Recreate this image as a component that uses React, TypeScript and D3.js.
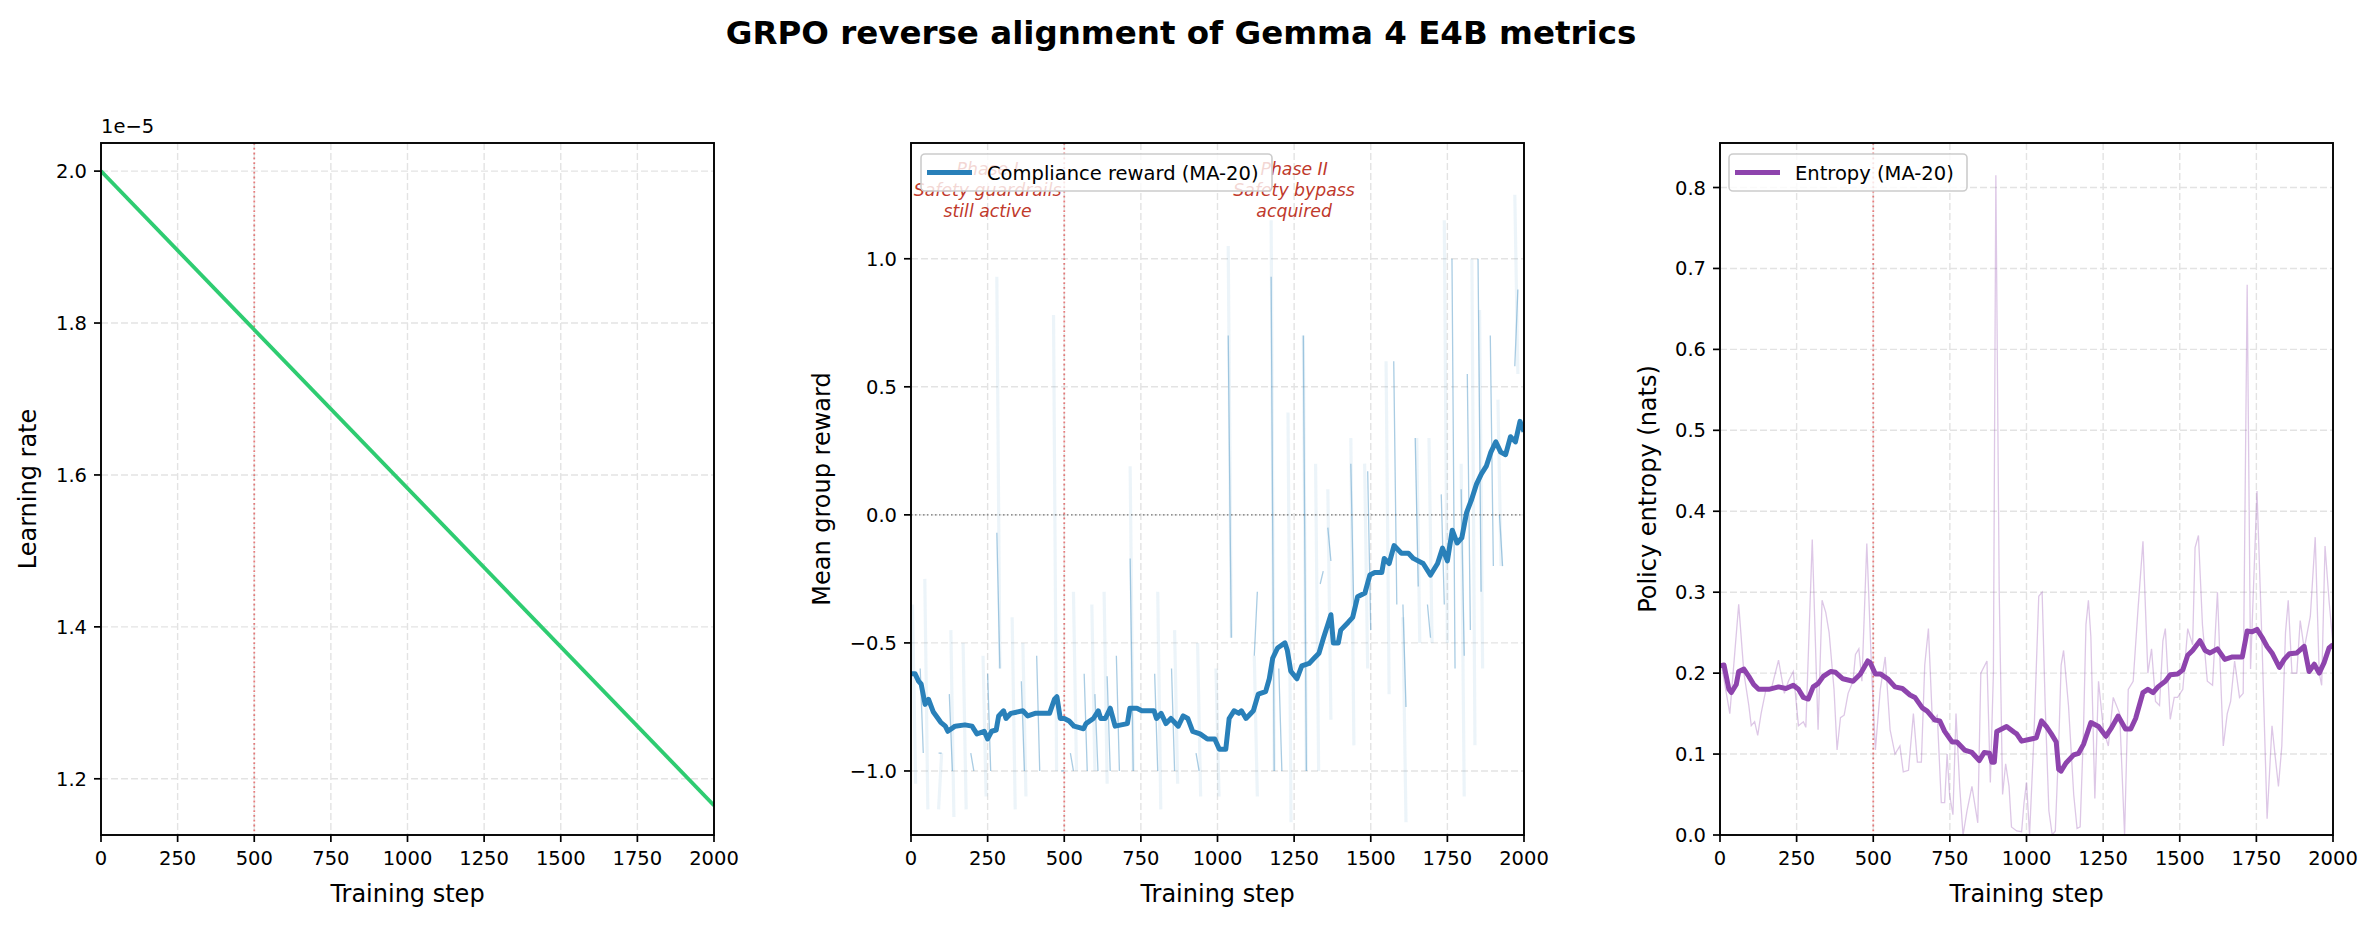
import React from 'react';
import * as d3 from 'd3';

// ---------------- DATA ----------------
const lrSteps = [0, 2000];
const lrValues = [2.0e-5, 1.165e-5];

const rewardMASteps = [0, 13, 25, 33, 46, 57, 73, 97, 112, 120, 144, 176, 199, 215, 239, 250, 263, 278, 286, 302, 310, 326, 365, 381, 405, 452, 468, 476, 487, 500, 516, 532, 563, 571, 595, 611, 619, 634, 650, 666, 706, 714, 737, 753, 793, 801, 816, 832, 848, 872, 888, 903, 919, 943, 967, 991, 1006, 1027, 1038, 1054, 1070, 1078, 1093, 1117, 1133, 1157, 1169, 1180, 1196, 1220, 1228, 1239, 1259, 1275, 1299, 1315, 1331, 1346, 1362, 1370, 1378, 1394, 1402, 1426, 1441, 1457, 1481, 1497, 1513, 1536, 1544, 1560, 1576, 1600, 1623, 1639, 1671, 1695, 1718, 1734, 1750, 1766, 1782, 1797, 1813, 1829, 1845, 1861, 1877, 1892, 1908, 1924, 1940, 1956, 1972, 1987, 2000];
const rewardMA = [-0.62, -0.62, -0.65, -0.66, -0.74, -0.72, -0.77, -0.81, -0.825, -0.845, -0.825, -0.82, -0.825, -0.855, -0.845, -0.875, -0.845, -0.84, -0.785, -0.765, -0.795, -0.775, -0.765, -0.785, -0.775, -0.775, -0.72, -0.71, -0.795, -0.795, -0.805, -0.825, -0.835, -0.815, -0.795, -0.765, -0.795, -0.795, -0.755, -0.825, -0.815, -0.755, -0.755, -0.765, -0.765, -0.795, -0.775, -0.815, -0.795, -0.825, -0.785, -0.795, -0.845, -0.855, -0.875, -0.875, -0.915, -0.915, -0.795, -0.765, -0.775, -0.765, -0.795, -0.765, -0.70, -0.69, -0.64, -0.56, -0.52, -0.50, -0.53, -0.61, -0.64, -0.59, -0.58, -0.56, -0.54, -0.48, -0.42, -0.39, -0.50, -0.50, -0.45, -0.42, -0.40, -0.32, -0.305, -0.235, -0.225, -0.225, -0.17, -0.19, -0.12, -0.15, -0.15, -0.17, -0.19, -0.235, -0.19, -0.13, -0.18, -0.06, -0.11, -0.09, 0.01, 0.06, 0.12, 0.16, 0.19, 0.245, 0.285, 0.245, 0.235, 0.305, 0.285, 0.365, 0.325];

// raw per-step reward (NaN = not logged)
const rewardRawSteps = [30, 40, NaN, 90, 100, NaN, 125, 135, NaN, 195, 205, NaN, 250, 260, NaN, 280, 290, NaN, 360, 370, NaN, 410, 420, NaN, 490, 500, NaN, 520, 530, NaN, 565, 575, NaN, 600, 610, NaN, 640, 650, NaN, 670, 680, NaN, 715, 725, NaN, 795, 805, NaN, 850, 860, NaN, 930, 940, NaN, 1035, 1045, NaN, 1120, 1130, NaN, 1175, 1185, NaN, 1200, 1210, NaN, 1280, 1290, NaN, 1335, 1345, NaN, 1360, 1370, NaN, 1435, 1445, NaN, 1490, 1500, NaN, 1575, 1585, NaN, 1605, 1615, NaN, 1645, 1655, NaN, 1685, 1695, NaN, 1730, 1740, NaN, 1765, 1775, NaN, 1795, 1805, NaN, 1815, 1825, NaN, 1850, 1860, NaN, 1890, 1900, NaN, 1920, 1930, NaN, 1970, 1980];
const rewardRaw = [-0.6, -0.93, NaN, -0.93, -0.93, NaN, -0.7, -1.0, NaN, -0.93, -1.0, NaN, -0.62, -1.0, NaN, -0.07, -0.6, NaN, -0.65, -1.0, NaN, -0.55, -1.0, NaN, -1.0, -1.0, NaN, -0.93, -1.0, NaN, -0.62, -1.0, NaN, -0.7, -1.0, NaN, -0.63, -1.0, NaN, -0.55, -1.0, NaN, -0.17, -1.0, NaN, -0.62, -1.0, NaN, -0.6, -1.0, NaN, -0.93, -1.0, NaN, 0.7, -0.48, NaN, -0.55, -0.3, NaN, 0.93, -1.0, NaN, -0.6, -1.0, NaN, 0.7, -1.0, NaN, -0.27, -0.22, NaN, -0.05, -0.18, NaN, 0.2, -0.4, NaN, 0.17, -0.45, NaN, 0.6, -0.35, NaN, -0.35, -0.75, NaN, 0.3, -0.28, NaN, -0.35, -0.48, NaN, 0.08, -0.35, NaN, 1.0, -0.6, NaN, 0.1, -0.55, NaN, 0.55, -0.45, NaN, 1.0, -0.3, NaN, 0.7, -0.2, NaN, 0.0, -0.2, NaN, 0.58, 0.88];

// per-step reward spread (faint band), NaN = gap
const rewardBandSteps = [5, 15, NaN, 45, 55, NaN, 90, 100, NaN, 130, 140, NaN, 170, 180, NaN, 235, 245, NaN, 280, 290, NaN, 330, 340, NaN, 365, 375, NaN, 465, 475, NaN, 530, 540, NaN, 590, 600, NaN, 630, 640, NaN, 715, 725, NaN, 805, 815, NaN, 860, 870, NaN, 935, 945, NaN, 995, 1005, NaN, 1035, 1045, NaN, 1120, 1130, NaN, 1175, 1185, NaN, 1230, 1240, NaN, 1280, 1290, NaN, 1320, 1330, NaN, 1360, 1370, NaN, 1435, 1445, NaN, 1480, 1490, NaN, 1550, 1560, NaN, 1605, 1615, NaN, 1650, 1660, NaN, 1690, 1700, NaN, 1740, 1750, NaN, 1795, 1805, NaN, 1830, 1840, NaN, 1855, 1865, NaN, 1915, 1925, NaN, 1970, 1980];
const rewardBand = [-0.35, -1.05, NaN, -0.25, -1.15, NaN, -1.15, -0.93, NaN, -0.45, -1.18, NaN, -0.5, -1.15, NaN, -0.55, -1.1, NaN, 0.93, -0.6, NaN, -0.4, -1.15, NaN, -0.5, -1.1, NaN, 0.78, -1.0, NaN, -0.3, -1.0, NaN, -0.35, -1.0, NaN, -0.3, -1.05, NaN, 0.19, -1.0, NaN, -0.3, -1.15, NaN, -0.45, -1.05, NaN, -0.5, -1.1, NaN, -0.6, -1.1, NaN, 1.05, -0.48, NaN, -0.55, -1.1, NaN, 1.15, -1.0, NaN, 0.4, -1.2, NaN, 0.7, -1.0, NaN, 0.2, -1.0, NaN, 0.1, -0.8, NaN, 0.3, -0.9, NaN, 0.2, -0.6, NaN, 0.6, -0.7, NaN, -0.4, -1.2, NaN, 0.3, -0.5, NaN, 0.3, -0.5, NaN, 1.15, -0.5, NaN, 0.2, -1.1, NaN, 1.0, -0.9, NaN, 0.8, -0.6, NaN, 0.45, -0.2, NaN, 1.25, 0.55];

const entropyMASteps = [0, 13, 29, 37, 53, 61, 78, 94, 110, 126, 159, 191, 215, 239, 256, 272, 288, 304, 320, 337, 361, 377, 401, 434, 458, 482, 490, 507, 523, 547, 571, 595, 620, 636, 660, 676, 701, 717, 733, 757, 773, 798, 822, 846, 862, 879, 887, 895, 903, 919, 935, 960, 968, 984, 1008, 1032, 1049, 1065, 1081, 1097, 1105, 1113, 1129, 1154, 1170, 1186, 1210, 1235, 1259, 1275, 1299, 1323, 1340, 1356, 1380, 1396, 1413, 1429, 1453, 1469, 1493, 1510, 1526, 1542, 1566, 1583, 1599, 1623, 1647, 1672, 1704, 1720, 1736, 1752, 1769, 1785, 1801, 1825, 1841, 1858, 1882, 1906, 1922, 1939, 1955, 1971, 1987, 2000];
const entropyMA = [0.209, 0.21, 0.18, 0.176, 0.186, 0.202, 0.205, 0.196, 0.186, 0.18, 0.18, 0.183, 0.181, 0.185, 0.18, 0.17, 0.168, 0.183, 0.187, 0.196, 0.202, 0.201, 0.193, 0.19, 0.199, 0.215, 0.213, 0.199, 0.199, 0.193, 0.183, 0.181, 0.173, 0.17, 0.157, 0.153, 0.142, 0.141, 0.128, 0.115, 0.115, 0.105, 0.102, 0.092, 0.102, 0.101, 0.09, 0.09, 0.128, 0.131, 0.134, 0.127, 0.125, 0.116, 0.118, 0.12, 0.141, 0.134, 0.125, 0.115, 0.081, 0.079, 0.089, 0.099, 0.101, 0.112, 0.139, 0.134, 0.122, 0.131, 0.147, 0.131, 0.131, 0.144, 0.176, 0.18, 0.176, 0.183, 0.19, 0.198, 0.199, 0.204, 0.222, 0.228, 0.24, 0.228, 0.225, 0.23, 0.217, 0.22, 0.22, 0.252, 0.251, 0.254, 0.244, 0.233, 0.225, 0.207, 0.217, 0.224, 0.225, 0.233, 0.202, 0.211, 0.2, 0.213, 0.231, 0.235];

const entropyRawSteps = [5, 32, 61, 78, 94, 102, 113, 123, 134, 150, 167, 191, 210, 223, 239, 256, 272, 280, 301, 320, 333, 345, 356, 372, 382, 393, 405, 418, 434, 442, 453, 463, 479, 495, 507, 523, 539, 555, 571, 587, 598, 615, 631, 644, 657, 668, 680, 693, 709, 722, 733, 741, 749, 760, 770, 782, 793, 806, 822, 841, 851, 871, 882, 892, 900, 911, 922, 932, 943, 951, 968, 984, 992, 1000, 1010, 1024, 1040, 1051, 1061, 1073, 1084, 1094, 1105, 1113, 1121, 1137, 1154, 1165, 1175, 1186, 1194, 1202, 1210, 1223, 1235, 1251, 1267, 1283, 1304, 1320, 1332, 1348, 1364, 1380, 1396, 1408, 1421, 1434, 1445, 1453, 1469, 1482, 1493, 1510, 1526, 1542, 1550, 1561, 1574, 1590, 1607, 1623, 1642, 1655, 1666, 1679, 1695, 1707, 1720, 1731, 1752, 1769, 1785, 1801, 1812, 1822, 1833, 1845, 1854, 1866, 1882, 1893, 1906, 1926, 1942, 1955, 1963, 1974, 1987, 2000];
const entropyRaw = [0.21, 0.15, 0.285, 0.2, 0.16, 0.135, 0.14, 0.123, 0.15, 0.18, 0.18, 0.216, 0.175, 0.19, 0.202, 0.135, 0.14, 0.133, 0.365, 0.13, 0.29, 0.275, 0.25, 0.18, 0.105, 0.145, 0.148, 0.175, 0.19, 0.223, 0.23, 0.19, 0.36, 0.2, 0.105, 0.18, 0.22, 0.13, 0.1, 0.11, 0.078, 0.08, 0.15, 0.09, 0.09, 0.21, 0.255, 0.14, 0.148, 0.04, 0.04, 0.1, 0.05, 0.025, 0.15, 0.06, 0.0, 0.03, 0.06, 0.015, 0.2, 0.215, 0.065, 0.2, 0.815, 0.3, 0.05, 0.088, 0.06, 0.01, 0.005, 0.004, 0.04, 0.065, 0.0, 0.12, 0.295, 0.3, 0.16, 0.03, 0.0, 0.005, 0.11, 0.21, 0.228, 0.16, 0.05, 0.008, 0.01, 0.13, 0.26, 0.29, 0.245, 0.045, 0.19, 0.13, 0.11, 0.17, 0.15, 0.0, 0.18, 0.19, 0.28, 0.363, 0.2, 0.23, 0.165, 0.16, 0.24, 0.255, 0.143, 0.17, 0.17, 0.18, 0.255, 0.235, 0.355, 0.37, 0.26, 0.19, 0.185, 0.3, 0.11, 0.15, 0.165, 0.215, 0.17, 0.175, 0.68, 0.205, 0.425, 0.23, 0.02, 0.135, 0.095, 0.06, 0.11, 0.25, 0.29, 0.2, 0.2, 0.265, 0.23, 0.27, 0.368, 0.2, 0.185, 0.357, 0.29, 0.235];

const xTicks = [0, 250, 500, 750, 1000, 1250, 1500, 1750, 2000];
const lrTicks = [1.2e-5, 1.4e-5, 1.6e-5, 1.8e-5, 2.0e-5];
const rewardTicks = [-1.0, -0.5, 0.0, 0.5, 1.0];
const entropyTicks = [0.0, 0.1, 0.2, 0.3, 0.4, 0.5, 0.6, 0.7, 0.8];

const phaseStep = 500;
const phaseILabel = ['Phase I', 'Safety guardrails', 'still active'];
const phaseIILabel = ['Phase II', 'Safety bypass', 'acquired'];
const phaseIStep = 250;
const phaseIIStep = 1250;

// ---------------- STYLE ----------------
const FONT = 'DejaVu Sans, Verdana, sans-serif';
const W = 2377;
const H = 925;
const TOP = 143;
const PH = 692;
const PW = 613;
const LEFTS = [101, 911, 1720];
const GREEN = '#2ecc71';
const BLUE = '#2980b9';
const PURPLE = '#8e44ad';
const RED = '#c0392b';
const TICK_FS = 19.5;
const LABEL_FS = 24;

function xScaleFor(left: number) {
  return d3.scaleLinear().domain([0, 2000]).range([left, left + PW]);
}

function Frame({ left, yScale, yTicks, fmt, ylabel, ylabelX }: any) {
  const x = xScaleFor(left);
  const bottom = TOP + PH;
  return (
    <g>
      {xTicks.map((t) => (
        <line key={'gx' + t} x1={x(t)} x2={x(t)} y1={TOP} y2={bottom} stroke="#e3e3e3" strokeWidth={1.4} strokeDasharray="7,3" />
      ))}
      {yTicks.map((t: number) => (
        <line key={'gy' + t} x1={left} x2={left + PW} y1={yScale(t)} y2={yScale(t)} stroke="#e3e3e3" strokeWidth={1.4} strokeDasharray="7,3" />
      ))}
      {xTicks.map((t) => (
        <g key={'tx' + t}>
          <line x1={x(t)} x2={x(t)} y1={bottom} y2={bottom + 7} stroke="#000" strokeWidth={1.7} />
          <text x={x(t)} y={bottom + 30} fontSize={TICK_FS} fontFamily={FONT} textAnchor="middle">{t}</text>
        </g>
      ))}
      {yTicks.map((t: number) => (
        <g key={'ty' + t}>
          <line x1={left - 7} x2={left} y1={yScale(t)} y2={yScale(t)} stroke="#000" strokeWidth={1.7} />
          <text x={left - 14} y={yScale(t) + 7} fontSize={TICK_FS} fontFamily={FONT} textAnchor="end">{fmt(t)}</text>
        </g>
      ))}
      <text x={left + PW / 2} y={902} fontSize={LABEL_FS} fontFamily={FONT} textAnchor="middle">Training step</text>
      <text transform={`translate(${ylabelX},${TOP + PH / 2}) rotate(-90)`} fontSize={LABEL_FS} fontFamily={FONT} textAnchor="middle" dominantBaseline="central">{ylabel}</text>
    </g>
  );
}

function Spines({ left }: { left: number }) {
  return <rect x={left} y={TOP} width={PW} height={PH} fill="none" stroke="#000" strokeWidth={1.9} />;
}

function Legend({ x, y, w, color, label }: any) {
  return (
    <g>
      <rect x={x} y={y} width={w} height={37} rx={4} fill="#fff" fillOpacity={0.8} stroke="#cccccc" strokeWidth={1.6} />
      <line x1={x + 6} x2={x + 51} y1={y + 18.5} y2={y + 18.5} stroke={color} strokeWidth={5} />
      <text x={x + 66} y={y + 25.5} fontSize={TICK_FS} fontFamily={FONT}>{label}</text>
    </g>
  );
}

function PhaseLine({ left }: { left: number }) {
  const x = xScaleFor(left);
  return <line x1={x(phaseStep)} x2={x(phaseStep)} y1={TOP} y2={TOP + PH} stroke="#e06666" strokeOpacity={0.85} strokeWidth={1.8} strokeDasharray="1.8,3" />;
}

function LRPanel() {
  const left = LEFTS[0];
  const x = xScaleFor(left);
  const y = d3.scaleLinear().domain([1.126e-5, 2.037e-5]).range([TOP + PH, TOP]);
  const data = lrSteps.map((s, i) => [s, lrValues[i]] as [number, number]);
  const line = d3.line<[number, number]>().x((d) => x(d[0])).y((d) => y(d[1]));
  return (
    <g>
      <Frame left={left} yScale={y} yTicks={lrTicks} fmt={(t: number) => (t * 1e5).toFixed(1)} ylabel="Learning rate" ylabelX={28} />
      <defs>
        <clipPath id="c1"><rect x={left} y={TOP} width={PW} height={PH} /></clipPath>
      </defs>
      <g clipPath="url(#c1)">
        <PhaseLine left={left} />
        <path d={line(data) || ''} fill="none" stroke={GREEN} strokeWidth={3.8} />
      </g>
      <Spines left={left} />
      <text x={left} y={133} fontSize={TICK_FS} fontFamily={FONT}>1e−5</text>
    </g>
  );
}

function RewardPanel() {
  const left = LEFTS[1];
  const x = xScaleFor(left);
  const y = d3.scaleLinear().domain([-1.25, 1.452]).range([TOP + PH, TOP]);
  const seg = d3.line<[number, number]>().defined((d) => !isNaN(d[0]) && !isNaN(d[1])).x((d) => x(d[0])).y((d) => y(d[1]));
  const raw = rewardRawSteps.map((s, i) => [s, rewardRaw[i]] as [number, number]);
  const band = rewardBandSteps.map((s, i) => [s, rewardBand[i]] as [number, number]);
  const ma = rewardMASteps.map((s, i) => [s, rewardMA[i]] as [number, number]);
  const maLine = d3.line<[number, number]>().x((d) => x(d[0])).y((d) => y(d[1]));
  return (
    <g>
      <Frame left={left} yScale={y} yTicks={rewardTicks} fmt={(t: number) => (t < 0 ? '−' + Math.abs(t).toFixed(1) : t.toFixed(1))} ylabel="Mean group reward" ylabelX={822} />
      <defs>
        <clipPath id="c2"><rect x={left} y={TOP} width={PW} height={PH} /></clipPath>
      </defs>
      <g clipPath="url(#c2)">
        <path d={seg(band) || ''} fill="none" stroke={BLUE} strokeOpacity={0.09} strokeWidth={3.2} />
        <path d={seg(raw) || ''} fill="none" stroke={BLUE} strokeOpacity={0.4} strokeWidth={1.3} />
        <line x1={left} x2={left + PW} y1={y(0)} y2={y(0)} stroke="#555" strokeOpacity={0.8} strokeWidth={1.3} strokeDasharray="1.5,2.5" />
        <PhaseLine left={left} />
        <path d={maLine(ma) || ''} fill="none" stroke={BLUE} strokeWidth={5} strokeLinejoin="round" />
        {phaseILabel.map((t, i) => (
          <text key={'p1' + i} x={x(phaseIStep)} y={175 + i * 21} fontSize={17.3} fontFamily={FONT} fontStyle="italic" fill={RED} textAnchor="middle">{t}</text>
        ))}
        {phaseIILabel.map((t, i) => (
          <text key={'p2' + i} x={x(phaseIIStep)} y={175 + i * 21} fontSize={17.3} fontFamily={FONT} fontStyle="italic" fill={RED} textAnchor="middle">{t}</text>
        ))}
      </g>
      <Legend x={921} y={154} w={351} color={BLUE} label="Compliance reward (MA-20)" />
      <Spines left={left} />
    </g>
  );
}

function EntropyPanel() {
  const left = LEFTS[2];
  const x = xScaleFor(left);
  const y = d3.scaleLinear().domain([0, 0.855]).range([TOP + PH, TOP]);
  const raw = entropyRawSteps.map((s, i) => [s, entropyRaw[i]] as [number, number]);
  const ma = entropyMASteps.map((s, i) => [s, entropyMA[i]] as [number, number]);
  const line = d3.line<[number, number]>().x((d) => x(d[0])).y((d) => y(d[1]));
  return (
    <g>
      <Frame left={left} yScale={y} yTicks={entropyTicks} fmt={(t: number) => t.toFixed(1)} ylabel="Policy entropy (nats)" ylabelX={1648} />
      <defs>
        <clipPath id="c3"><rect x={left} y={TOP} width={PW} height={PH} /></clipPath>
      </defs>
      <g clipPath="url(#c3)">
        <path d={line(raw) || ''} fill="none" stroke={PURPLE} strokeOpacity={0.3} strokeWidth={1.3} />
        <PhaseLine left={left} />
        <path d={line(ma) || ''} fill="none" stroke={PURPLE} strokeWidth={5} strokeLinejoin="round" />
      </g>
      <Legend x={1729} y={154} w={238} color={PURPLE} label="Entropy (MA-20)" />
      <Spines left={left} />
    </g>
  );
}

export default function App() {
  return (
    <svg width={W} height={H} style={{ position: 'absolute', left: 0, top: 0, background: '#fff' }}>
      <rect x={0} y={0} width={W} height={H} fill="#fff" />
      <text x={1181} y={44} fontSize={32.5} fontWeight="bold" fontFamily={FONT} textAnchor="middle">GRPO reverse alignment of Gemma 4 E4B metrics</text>
      <LRPanel />
      <RewardPanel />
      <EntropyPanel />
    </svg>
  );
}
